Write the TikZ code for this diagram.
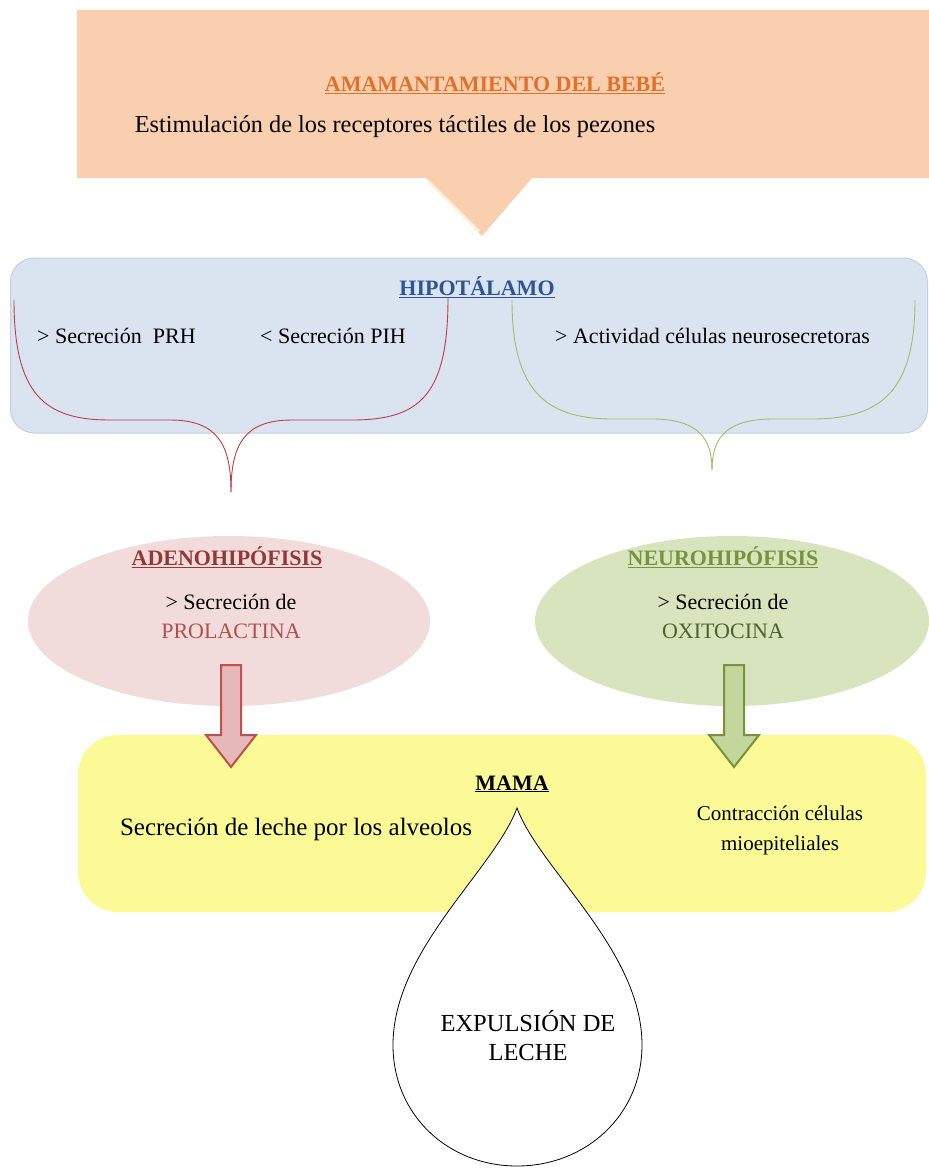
\documentclass[tikz,border=0pt]{standalone}
\usepackage{fontspec}
\setmainfont{Liberation Serif}
\usetikzlibrary{shapes.geometric}
\definecolor{peach}{RGB}{249,207,176}
\definecolor{peachlight}{RGB}{255,240,215}
\definecolor{orangetxt}{RGB}{226,112,40}
\definecolor{bluebox}{RGB}{218,227,240}
\definecolor{blueedge}{RGB}{196,208,226}
\definecolor{bluetxt}{RGB}{47,84,150}
\definecolor{redline}{RGB}{192,60,70}
\definecolor{greenline}{RGB}{160,190,100}
\definecolor{pinkfill}{RGB}{242,220,219}
\definecolor{greenfill}{RGB}{215,228,189}
\definecolor{adenotxt}{RGB}{149,55,53}
\definecolor{prolactxt}{RGB}{176,80,79}
\definecolor{neurotxt}{RGB}{119,147,60}
\definecolor{oxitxt}{RGB}{79,98,40}
\definecolor{redarrfill}{RGB}{230,185,184}
\definecolor{redarredge}{RGB}{192,80,77}
\definecolor{grnarrfill}{RGB}{195,214,155}
\definecolor{grnarredge}{RGB}{119,147,60}
\definecolor{yellowbox}{RGB}{252,250,150}
\tikzset{
  txt/.style={font=\fontsize{22}{29}\selectfont, align=center, inner sep=0pt},
  bigtxt/.style={font=\fontsize{24.5}{29}\selectfont, align=center, inner sep=0pt},
  ttl/.style={font=\fontsize{22}{29}\selectfont\bfseries, align=center, inner sep=0pt},
  brace/.style={line width=0.9pt},
  blockarrow/.style={line width=2pt, line join=miter},
}
\begin{document}
\begin{tikzpicture}[x=1pt,y=-1pt]
\useasboundingbox (0,0) rectangle (929,1171);
\fill[white] (0,0) rectangle (929,1171);

% top callout
\node[fill=peach, minimum width=852pt, minimum height=168pt, inner sep=0pt] (topbox) at (503,94) {};
\fill[peach] (425,177) -- (533,177) -- (482,236) -- cycle;
\draw[peachlight, line width=2.5pt] (428,181) -- (479,231);
\node[ttl, text=orangetxt] (amam) at (495,83) {\underline{AMAMANTAMIENTO DEL BEBÉ}};
\node[bigtxt, font=\fontsize{24.3}{29}\selectfont] (estim) at (395,127) {Estimulación de los receptores táctiles de los pezones};

% hypothalamus box
\node[fill=bluebox, draw=blueedge, line width=1pt, rounded corners=24pt, minimum width=917pt, minimum height=175pt, inner sep=0pt] (hipobox) at (469,345.5) {};
\node[ttl, text=bluetxt] (hipo) at (477,287) {\underline{HIPOTÁLAMO}};
\node[txt, anchor=west] (prh) at (37,336) {> Secreción\ \ PRH};
\node[txt, anchor=west] (pih) at (260,336) {< Secreción PIH};
\node[txt, anchor=west] (activ) at (555,336) {> Actividad células neurosecretoras};

% braces
\coordinate (rl) at (14,300);
\coordinate (rr) at (448,298);
\coordinate (rt) at (231,492);
\draw[brace, redline] (rl) .. controls (14,395) and (45,420) .. (110,420) -- (170,420) .. controls (218,420) and (231,445) .. (rt);
\draw[brace, redline] (rr) .. controls (448,395) and (420,420) .. (352,420) -- (292,420) .. controls (244,420) and (231,445) .. (rt);
\coordinate (gl) at (512,300);
\coordinate (gr) at (915,300);
\coordinate (gt) at (712,470);
\draw[brace, greenline] (gl) .. controls (512,390) and (545,418) .. (610,419) -- (655,419) .. controls (700,420) and (712,440) .. (gt);
\draw[brace, greenline] (gr) .. controls (915,390) and (882,418) .. (815,419) -- (770,419) .. controls (724,420) and (712,440) .. (gt);

% ellipses
\node[ellipse, fill=pinkfill, minimum width=402pt, minimum height=170pt, inner sep=0pt] (adenobox) at (229,621) {};
\node[ttl, text=adenotxt] (adeno) at (227,557) {\underline{ADENOHIPÓFISIS}};
\node[txt] (prol) at (231,616) {> Secreción de\\\textcolor{prolactxt}{PROLACTINA}};
\node[ellipse, fill=greenfill, minimum width=394pt, minimum height=170pt, inner sep=0pt] (neurobox) at (732,621) {};
\node[ttl, text=neurotxt] (neuro) at (723,557) {\underline{NEUROHIPÓFISIS}};
\node[txt] (oxi) at (723,616) {> Secreción de\\\textcolor{oxitxt}{OXITOCINA}};

% mama box
\node[fill=yellowbox, rounded corners=40pt, minimum width=848pt, minimum height=177pt, inner sep=0pt] (mamabox) at (502,823.5) {};

% block arrows
\draw[blockarrow, draw=redarredge, fill=redarrfill] (221,665) -- (241,665) -- (241,735) -- (256,735) -- (231,767) -- (206,735) -- (221,735) -- cycle;
\draw[blockarrow, draw=grnarredge, fill=grnarrfill] (724,665) -- (744,665) -- (744,735) -- (759,735) -- (734,767) -- (709,735) -- (724,735) -- cycle;

\node[ttl] (mama) at (512,784) {\underline{MAMA}};
\node[bigtxt, font=\fontsize{25}{29}\selectfont] (alv) at (296,829) {Secreción de leche por los alveolos};
\node[txt, font=\fontsize{21}{30}\selectfont] (contr) at (780,830) {Contracción células\\mioepiteliales};

% drop
\draw[fill=white, line width=0.8pt] (517,808) .. controls (540,870) and (642,950) .. (642,1045) .. controls (642,1115) and (586,1166) .. (517,1166) .. controls (448,1166) and (393,1115) .. (393,1045) .. controls (393,950) and (494,870) .. (517,808) -- cycle;
\node[bigtxt] (expul) at (528,1036) {EXPULSIÓN DE\\LECHE};
\end{tikzpicture}
\end{document}
